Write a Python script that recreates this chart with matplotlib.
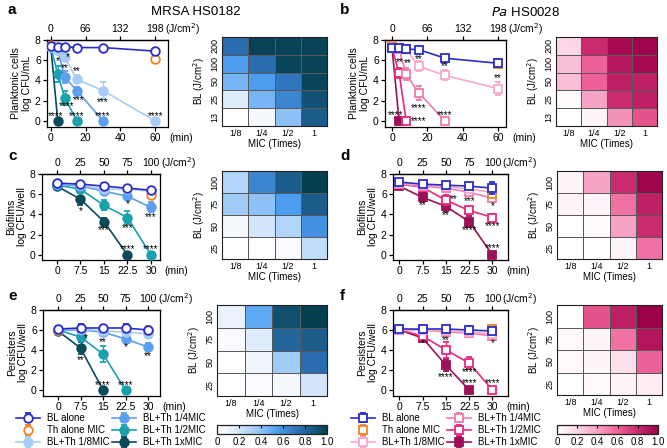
import matplotlib.pyplot as plt
import numpy as np
from matplotlib.colors import LinearSegmentedColormap

plt.rcParams['font.family'] = ['Liberation Sans', 'DejaVu Sans']
plt.rcParams['axes.linewidth'] = 0.9

W, H = 667, 448

# ---------------- data ----------------
series_labels = ['BL alone', 'Th alone MIC', 'BL+Th 1/8MIC',
                 'BL+Th 1/4MIC', 'BL+Th 1/2MIC', 'BL+Th 1xMIC']

t_plank = [0, 4, 8, 15, 30, 60]
t_film = [0, 7.5, 15, 22.5, 30]

# a: MRSA planktonic (BL, Th, 1/8, 1/4, 1/2, 1x)
a_th_t = [0, 60]
a_mean = [[7.4, 7.35, 7.35, 7.25, 7.25, 6.9], [7.5, 6.1],
          [7.3, 7.0, 6.3, 4.1, 3.0, 0], [7.3, 7.0, 4.3, 3.0, 0],
          [7.3, 4.6, 2.3, 0], [7.3, 0]]
a_err = [[0.2, 0.2, 0.25, 0.2, 0.2, 0.2], [0.2, 0.25],
         [0.1, 0.2, 0.3, 0.4, 0.8, 0], [0.1, 0.2, 0.6, 0.4, 0],
         [0.1, 0.8, 0.7, 0], [0.1, 0]]
a_stars = [(4, 5.9, '*'), (10, 6.3, '*'), (8, 5.2, '**'), (15, 4.9, '**'),
           (16, 2.1, '***'), (9, 1.45, '****'), (30, 1.9, '***'),
           (2.5, 0.45, '****'), (15, 0.5, '****'), (30, 0.5, '****'),
           (60, 0.5, '****')]

# b: Pa planktonic
b_th_t = [0, 60]
b_mean = [[7.2, 7.2, 7.1, 7.05, 6.2, 5.7], [7.4, 5.6],
          [7.2, 7.2, 7.1, 5.4, 4.5, 3.2], [7.2, 7.1, 4.6, 2.8, 0],
          [7.2, 4.7, 0], [7.2, 0]]
b_err = [[0.2, 0.2, 0.2, 0.2, 0.25, 0.4], [0.2, 0.2],
         [0.2, 0.2, 0.2, 0.5, 0.5, 0.6], [0.2, 0.2, 0.6, 0.7, 0],
         [0.2, 0.5, 0], [0.2, 0]]
b_stars = [(4.5, 5.8, '**'), (9, 5.7, '**'), (15, 6.1, '**'), (30, 5.4, '**'),
           (60, 4.2, '**'), (15, 1.3, '****'), (2, 0.55, '****'),
           (15, 0.0, '****'), (30, 0.55, '****')]

# c: MRSA biofilms
c_th_t = [30]
c_mean = [[7.1, 7.0, 6.8, 6.6, 6.4], [5.9],
          [7.1, 6.9, 6.5, 6.5, 6.3], [7.0, 6.8, 6.3, 5.8, 4.7],
          [6.9, 6.5, 4.9, 3.7, 0], [6.8, 5.5, 3.3, 0]]
c_err = [[0.2, 0.15, 0.3, 0.2, 0.2], [0.3],
         [0.3, 0.2, 0.3, 0.3, 0.2], [0.3, 0.3, 0.3, 0.3, 0.5],
         [0.3, 0.3, 0.5, 0.6, 0], [0.3, 0.6, 0.4, 0]]
c_stars = [(7.5, 4.3, '*'), (22.5, 5.05, '*'), (15, 2.5, '***'),
           (22.5, 2.7, '***'), (30, 3.7, '***'), (22.5, 0.6, '****'),
           (30, 0.6, '****')]

# d: Pa biofilms
d_th_t = [30]
d_mean = [[7.2, 7.0, 6.9, 6.8, 6.6], [6.0],
          [7.1, 6.9, 6.8, 6.5, 6.2], [7.0, 6.8, 6.6, 6.2, 5.6],
          [7.0, 6.7, 5.4, 4.4, 3.7], [6.8, 5.7, 4.8, 3.3, 0]]
d_err = [[0.2, 0.15, 0.2, 0.2, 0.6], [0.3],
         [0.3, 0.2, 0.3, 0.3, 0.3], [0.3, 0.3, 0.3, 0.3, 0.4],
         [0.3, 0.3, 0.5, 0.3, 0.3], [0.3, 0.4, 0.5, 0.5, 0]]
d_stars = [(7.5, 4.9, '**'), (15, 3.9, '**'), (17.5, 5.5, '**'),
           (22.5, 5.3, '***'), (22.5, 2.5, '****'), (30, 4.8, '*'),
           (30, 2.9, '****'), (30, 0.65, '****')]

# e: MRSA persisters
e_th_t = [0, 30]
e_mean = [[6.1, 6.2, 6.2, 6.2, 6.0], [6.0, 6.0],
          [6.1, 6.1, 5.9, 5.8, 5.6], [6.0, 6.0, 5.8, 5.1, 4.3],
          [6.0, 5.3, 3.6, 0], [5.9, 4.2, 0]]
e_err = [[0.3, 0.4, 0.3, 0.4, 0.2], [0.4, 0.4],
         [0.2, 0.3, 0.3, 0.3, 0.2], [0.3, 0.3, 0.3, 0.4, 0.4],
         [0.3, 0.3, 0.8, 0], [0.3, 0.6, 0]]
e_stars = [(9.3, 5.2, '*'), (7.5, 3.0, '**'), (15, 4.8, '**'),
           (22.5, 4.27, '*'), (30, 3.4, '**'), (15, 0.5, '****'),
           (22.5, 0.5, '****')]

# f: Pa persisters
f_th_t = [30]
f_mean = [[6.1, 6.1, 6.1, 6.0, 5.9], [6.1],
          [6.0, 6.0, 5.9, 5.8, 5.6], [6.0, 6.0, 5.8, 5.7, 5.4],
          [6.0, 5.4, 4.0, 2.7, 0], [6.0, 5.2, 2.5, 0]]
f_err = [[0.2, 0.2, 0.3, 0.4, 0.3], [0.4],
         [0.2, 0.2, 0.3, 0.3, 0.2], [0.2, 0.2, 0.3, 0.3, 0.3],
         [0.2, 0.3, 0.8, 0.6, 0], [0.2, 0.3, 0.6, 0]]
f_stars = [(7.5, 4.67, '*'), (15, 5.0, '**'), (30, 4.7, '*'),
           (15, 1.27, '****'), (22.5, 1.8, '****'), (22.5, 0.67, '****'),
           (30, 0.67, '****')]

# heatmaps (rows top -> bottom, cols 1/8, 1/4, 1/2, 1)
mic_labels = ['1/8', '1/4', '1/2', '1']
bl_plank = ['200', '100', '50', '25', '13']
bl_film = ['100', '75', '50', '25']
a_heat = [[0.75, 0.98, 0.98, 0.98],
          [0.55, 0.75, 0.97, 0.98],
          [0.45, 0.55, 0.72, 0.97],
          [0.15, 0.45, 0.65, 0.9],
          [0.0, 0.05, 0.4, 0.85]]
b_heat = [[0.2, 0.8, 0.95, 0.98],
          [0.3, 0.6, 0.88, 0.95],
          [0.3, 0.6, 0.85, 0.85],
          [0.02, 0.4, 0.8, 0.85],
          [0.0, 0.05, 0.45, 0.65]]
c_heat = [[0.3, 0.65, 0.85, 1.0],
          [0.35, 0.4, 0.55, 0.85],
          [0.05, 0.2, 0.3, 0.6],
          [0.0, 0.0, 0.03, 0.25]]
d_heat = [[0.05, 0.4, 0.8, 0.98],
          [0.05, 0.05, 0.55, 0.85],
          [0.0, 0.02, 0.4, 0.8],
          [0.0, 0.0, 0.05, 0.55]]
e_heat = [[0.1, 0.5, 0.92, 1.0],
          [0.03, 0.15, 0.8, 0.85],
          [0.0, 0.08, 0.35, 0.75],
          [0.0, 0.03, 0.05, 0.2]]
f_heat = [[0.0, 0.65, 0.85, 1.0],
          [0.03, 0.05, 0.55, 0.9],
          [0.03, 0.05, 0.15, 0.6],
          [0.0, 0.03, 0.05, 0.1]]

# ---------------- styles ----------------
mrsa_colors = ['#2b2bcc', '#f5821f', '#a8cdf5', '#5a9ff0', '#1ba0b0', '#0b4a5c']
pa_colors = ['#2b2bcc', '#f5821f', '#f7a8cc', '#f07aaa', '#e8287e', '#9c1058']
mrsa_faces = ['white', 'white', '#a8cdf5', '#5a9ff0', '#1ba0b0', '#0b4a5c']
pa_faces = ['white', 'white', 'white', 'white', 'white', '#9c1058']

blue_cmap = LinearSegmentedColormap.from_list(
    'bl', [(0, '#ffffff'), (0.2, '#d3e5fb'), (0.4, '#8ec2f6'),
           (0.55, '#4c9cf0'), (0.75, '#2a6fb2'), (1.0, '#04404f')])
pink_cmap = LinearSegmentedColormap.from_list(
    'pk', [(0, '#ffffff'), (0.2, '#fcd6e6'), (0.4, '#f7a3c6'),
           (0.6, '#ee6198'), (0.8, '#c92b6e'), (1.0, '#9c0049')])

fig = plt.figure(figsize=(W / 100, H / 100), dpi=100)


def px_axes(left, right, top, bottom):
    return fig.add_axes([left / W, 1 - bottom / H, (right - left) / W, (bottom - top) / H])


def line_panel(box, t, th_t, means, errs, stars, colors, faces, marker,
               xlim, ylim, xticks, xticklabels, top_labels, ylabel):
    ax = px_axes(*box)
    for i in [5, 4, 3, 2, 1, 0]:
        tt = th_t if i == 1 else t[:len(means[i])]
        ax.errorbar(tt, means[i], yerr=errs[i], color=colors[i], marker=marker,
                    mfc=faces[i], mec=colors[i], ms=6.2, mew=1.3,
                    lw=1.2 if i != 1 else 0, capsize=2.5, elinewidth=1,
                    capthick=1, label=series_labels[i], zorder=3 + (5 - i) * 0.1 if i else 4)
    for x, y, s in stars:
        ax.text(x, y, s, ha='center', va='center', fontsize=7, zorder=6)
    ax.set_xlim(*xlim)
    ax.set_ylim(*ylim)
    ax.set_yticks([0, 2, 4, 6, 8])
    ax.set_xticks(xticks, xticklabels)
    ax.tick_params(labelsize=7.5, length=3, width=0.9, pad=1.5)
    ax.set_ylabel(ylabel, fontsize=7.5, labelpad=2, linespacing=1.15)
    top = ax.secondary_xaxis('top')
    top.set_xticks(xticks, top_labels)
    top.tick_params(labelsize=7.5, length=3, width=0.9, pad=1.5)
    ax.annotate('(J/cm$^2$)', xy=(xticks[-1], 1), xycoords=ax.get_xaxis_transform(),
                xytext=(7, 5.2), textcoords='offset points', fontsize=7.5,
                ha='left', va='baseline')
    ax.annotate('(min)', xy=(xticks[-1], 0), xycoords=ax.get_xaxis_transform(),
                xytext=(10, -4.5), textcoords='offset points', fontsize=7.5,
                ha='left', va='top')
    return ax


def heat_panel(box, values, rows, cmap):
    ax = px_axes(*box)
    arr = np.array(values)[::-1]
    mesh = ax.pcolormesh(arr, cmap=cmap, vmin=0, vmax=1,
                         edgecolors='#5a5a5a', linewidth=0.55)
    ax.set_xticks(np.arange(4) + 0.5, mic_labels)
    ax.set_yticks(np.arange(len(rows)) + 0.5, rows[::-1])
    ax.tick_params(labelsize=6.5, length=0, pad=2)
    for lab in ax.get_yticklabels():
        lab.set_rotation(90)
        lab.set_va('center')
    ax.set_xlabel('MIC (Times)', fontsize=7, labelpad=1)
    ax.set_ylabel('BL (J/cm$^2$)', fontsize=7, labelpad=2)
    for s in ax.spines.values():
        s.set_color('#222222')
        s.set_linewidth(0.8)
    return mesh


plank_ticks = [0, 20, 40, 60]
film_ticks = t_film
film_top = ['0', '25', '50', '75', '100']

axa = line_panel((47, 168, 40, 127), t_plank, a_th_t, a_mean, a_err, a_stars,
                 mrsa_colors, mrsa_faces, 'o', (-2.2, 67.4), (-0.6, 8),
                 plank_ticks, ['0', '20', '40', '60'], ['0', '66', '132', '198'],
                 'Planktonic cells\nlog CFU/mL')
axb = line_panel((385, 506, 40, 127), t_plank, b_th_t, b_mean, b_err, b_stars,
                 pa_colors, pa_faces, 's', (-4, 64.5), (-0.6, 8),
                 plank_ticks, ['0', '20', '40', '60'], ['0', '66', '132', '198'],
                 'Planktonic cells\nlog CFU/mL')
axc = line_panel((42, 160, 174, 260), t_film, c_th_t, c_mean, c_err, c_stars,
                 mrsa_colors, mrsa_faces, 'o', (-4.8, 32.9), (-0.5, 8),
                 film_ticks, ['0', '7.5', '15', '22.5', '30'], film_top,
                 'Biofilms\nlog CFU/well')
axd = line_panel((393, 508, 174, 260), t_film, d_th_t, d_mean, d_err, d_stars,
                 pa_colors, pa_faces, 's', (-2, 35), (-0.5, 8),
                 film_ticks, ['0', '7.5', '15', '22.5', '30'], film_top,
                 'Biofilms\nlog CFU/well')
axe = line_panel((43, 160, 310, 396), t_film, e_th_t, e_mean, e_err, e_stars,
                 mrsa_colors, mrsa_faces, 'o', (-5, 34), (-0.6, 8),
                 film_ticks, ['0', '7.5', '15', '22.5', '30'], film_top,
                 'Persisters\nlog CFU/well')
axf = line_panel((393, 508, 310, 396), t_film, f_th_t, f_mean, f_err, f_stars,
                 pa_colors, pa_faces, 's', (-2, 35), (-0.6, 8),
                 film_ticks, ['0', '7.5', '15', '22.5', '30'], film_top,
                 'Persisters\nlog CFU/well')

heat_panel((222, 327, 37, 126), a_heat, bl_plank, blue_cmap)
heat_panel((556, 657, 37, 126), b_heat, bl_plank, pink_cmap)
heat_panel((222, 327, 171, 259), c_heat, bl_film, blue_cmap)
heat_panel((557, 662, 171, 259), d_heat, bl_film, pink_cmap)
me = heat_panel((217, 327, 305, 396), e_heat, bl_film, blue_cmap)
mf = heat_panel((557, 662, 305, 395), f_heat, bl_film, pink_cmap)

for m, box in [(me, (217, 327, 425, 434)), (mf, (557, 658, 425, 434))]:
    cax = px_axes(*box)
    cb = fig.colorbar(m, cax=cax, orientation='horizontal',
                      ticks=[0, 0.2, 0.4, 0.6, 0.8, 1.0])
    cb.set_ticklabels(['0', '0.2', '0.4', '0.6', '0.8', '1.0'])
    cb.outline.set_edgecolor('#222222')
    cax.tick_params(axis='x', direction='in', top=True, bottom=False,
                    labelbottom=True, length=2, labelsize=7, pad=2)

# legends
for ax, x0 in [(axe, 16), (axf, 351)]:
    h, l = ax.get_legend_handles_labels()
    order = [l.index(s) for s in series_labels]
    fig.legend([h[i] for i in order], [l[i] for i in order], ncol=2,
               loc='upper left', bbox_to_anchor=(x0 / W, 1 - 413 / H),
               frameon=False, fontsize=7, handlelength=2.5, handletextpad=0.7,
               columnspacing=0.2, labelspacing=0.22, borderpad=0,
               borderaxespad=0)

# titles and panel letters
fig.text(196 / W, 1 - 12 / H, 'MRSA HS0182', ha='center', va='center', fontsize=9.5)
fig.text(526 / W, 1 - 12 / H, '$\\it{Pa}$ HS0028', ha='center', va='center', fontsize=9.5)
for s, x, y in [('a', 8, 10), ('b', 340, 10), ('c', 8, 156), ('d', 340, 156),
                ('e', 8, 296), ('f', 340, 296)]:
    fig.text(x / W, 1 - y / H, s, ha='left', va='center', fontsize=11, fontweight='bold')

fig.savefig('out.png', dpi=100)
